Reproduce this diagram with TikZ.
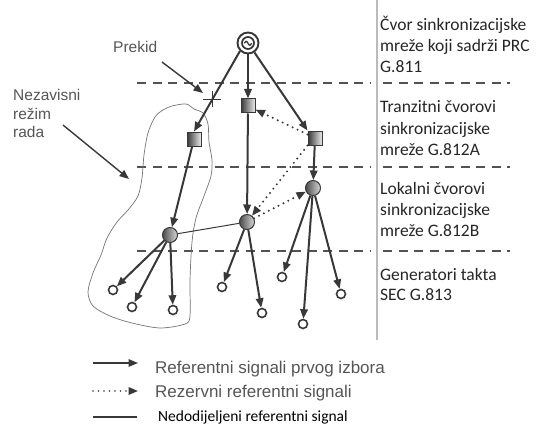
\documentclass[tikz,border=0pt]{standalone}
\usepackage{fontspec}
\setmainfont{Liberation Sans}
\newfontfamily\calfont{Carlito}
\usetikzlibrary{arrows.meta,calc}
\definecolor{ink}{HTML}{383838}
\definecolor{lbl}{HTML}{555555}
\definecolor{sep}{HTML}{BBBBBB}
\begin{document}
\begin{tikzpicture}[x=1pt,y=-1pt,
  tip/.style={-{Triangle[length=9.5pt,width=7.5pt]}},
  sig/.style={draw=ink, line width=2pt, tip},
  res/.style={draw=ink, line width=2.2pt, dash pattern=on 0pt off 5.5pt, line cap=round, tip},
  una/.style={draw=ink, line width=1pt},
  lvl/.style={draw=black!68, line width=2.3pt, dash pattern=on 9pt off 6.5pt},
  sq/.style={rectangle, draw=ink, line width=1pt, minimum size=14pt, inner sep=0, left color=ink, right color=black!8},
  loc/.style={circle, draw=ink, line width=1pt, minimum size=15pt, inner sep=0, left color=ink!90, right color=black!15},
  gen/.style={circle, draw=ink, line width=1.6pt, fill=white, minimum size=9pt, inner sep=0},
  prcn/.style={circle, draw=ink, line width=1.9pt, fill=white, minimum size=21pt, inner sep=0},
  rt/.style={font=\calfont\fontsize{17.5}{20}\selectfont, text=black!85, anchor=base west, inner sep=0},
  lt/.style={font=\fontsize{15.5}{18}\selectfont, text=lbl, anchor=base west, inner sep=0},
  gt/.style={font=\fontsize{17}{20}\selectfont, text=lbl, anchor=base west, inner sep=0},
  ct/.style={font=\calfont\fontsize{15.5}{19}\selectfont, text=black, anchor=base west, inner sep=0}]
\useasboundingbox (0,0) rectangle (536,428);
% separator and level lines
\coordinate (septop) at (377,0);
\coordinate (sepbot) at (377,340);
\draw[sep, line width=1.5pt] (septop) -- (sepbot);
\foreach \y/\n in {83/a,167/b,251/c}{
  \coordinate (dl\n) at (137,\y); \coordinate (dm\n) at (370,\y);
  \coordinate (dr\n) at (383,\y); \coordinate (de\n) at (510,\y);
  \draw[lvl] (dl\n) -- (dm\n);
  \draw[lvl] (dr\n) -- (de\n);
}
% independent-mode region
\draw[black!55, line width=0.7pt] plot[smooth cycle, tension=0.5] coordinates {
 (163,110) (172,106) (186,104) (194,109) (203,113) (208,124) (209,142) (212,160)
 (211,176) (204,196) (196,218) (192,242) (190,280) (190,316) (185,324) (160,328)
 (132,323) (110,316) (93,306) (88,292) (93,273) (101,255) (107,238) (117,222)
 (128,210) (138,196) (142,178) (144,155) (148,133) (155,117)};
% nodes
\node[prcn] (prc) at (248,43) {};
\draw[ink, line width=1.7pt] (prc) circle (6pt);
\draw[ink, line width=1.3pt] ([shift={(-3.6,0.3)}]prc.center) sin ++(1.8,-2) cos ++(1.8,2) sin ++(1.8,2) cos ++(1.8,-2);
\node[sq] (s1) at (194,139) {};
\node[sq] (s2) at (248,106) {};
\node[sq] (s3) at (315,138) {};
\node[loc] (c1) at (170,235) {};
\node[loc] (c2) at (247,222) {};
\node[loc] (c3) at (313,188) {};
\node[gen] (g1) at (113,290) {};
\node[gen] (g2) at (132,307) {};
\node[gen] (g3) at (173,310) {};
\node[gen] (g4) at (222,287) {};
\node[gen] (g5) at (262,313) {};
\node[gen] (g6) at (282,277) {};
\node[gen] (g7) at (303,324) {};
\node[gen] (g8) at (341,294) {};
% primary references
\draw[sig] (prc.225) -- (s1.north);
\draw[sig] (prc) -- (s2);
\draw[sig] (prc) -- (s3.north west);
\draw[sig] (s1) -- (c1);
\draw[sig] (s2) -- (c2);
\draw[sig] (s3) -- (c3);
\foreach \g in {g1,g2,g3} \draw[sig] (c1) -- (\g);
\foreach \g in {g4,g5} \draw[sig] (c2) -- (\g);
\foreach \g in {g6,g7,g8} \draw[sig] (c3) -- (\g);
% backup references
\draw[res] (s3) -- (s2);
\draw[res] (s3.south west) -- (c2);
\draw[res] (c2) -- (c3);
% unassigned
\draw[una] (c1) -- (c2);
% break
\coordinate (brk) at ($(prc.225)!0.6!(s1.north)$);
\draw[ink, line width=1.5pt] ([xshift=-9pt]brk) -- ([xshift=9pt]brk) ([yshift=-8pt]brk) -- ([yshift=8pt]brk);
% left labels
\node[lt] (prekid) at (113,53) {Prekid};
\coordinate (pk1) at (162,62); \coordinate (pk2) at (203,93);
\draw[sig, line width=1.4pt] (pk1) -- (pk2);
\node[lt] (nez1) at (13,101) {Nezavisni};
\node[lt] (nez2) at (13,120) {režim};
\node[lt] (nez3) at (13,137) {rada};
\coordinate (nz1) at (63,125); \coordinate (nz2) at (129,179);
\draw[sig, line width=1.4pt] (nz1) -- (nz2);
% right labels
\node[rt] (r1) at (380,31) {Čvor sinkronizacijske};
\node[rt] (r2) at (380,52) {mreže koji sadrži PRC};
\node[rt] (r3) at (380,73) {G.811};
\node[rt] (r4) at (380,113) {Tranzitni čvorovi};
\node[rt] (r5) at (380,134) {sinkronizacijske};
\node[rt] (r6) at (380,155) {mreže G.812A};
\node[rt] (r7) at (380,194) {Lokalni čvorovi};
\node[rt] (r8) at (380,215) {sinkronizacijske};
\node[rt] (r9) at (380,236) {mreže G.812B};
\node[rt] (r10) at (380,280) {Generatori takta};
\node[rt] (r11) at (380,300) {SEC G.813};
% legend
\coordinate (la1) at (93,363); \coordinate (lb1) at (138,363);
\coordinate (la2) at (93,391); \coordinate (lb2) at (138,391);
\coordinate (la3) at (93,417); \coordinate (lb3) at (137,417);
\draw[sig, line width=1.6pt] (la1) -- (lb1);
\draw[res, line width=1.9pt] (la2) -- (lb2);
\draw[una, line width=1.4pt] (la3) -- (lb3);
\node[gt] (t1) at (155,373) {Referentni signali prvog izbora};
\node[gt] (t2) at (155,397) {Rezervni referentni signali};
\node[ct] (t3) at (158,421) {Nedodijeljeni referentni signal};
\end{tikzpicture}
\end{document}
